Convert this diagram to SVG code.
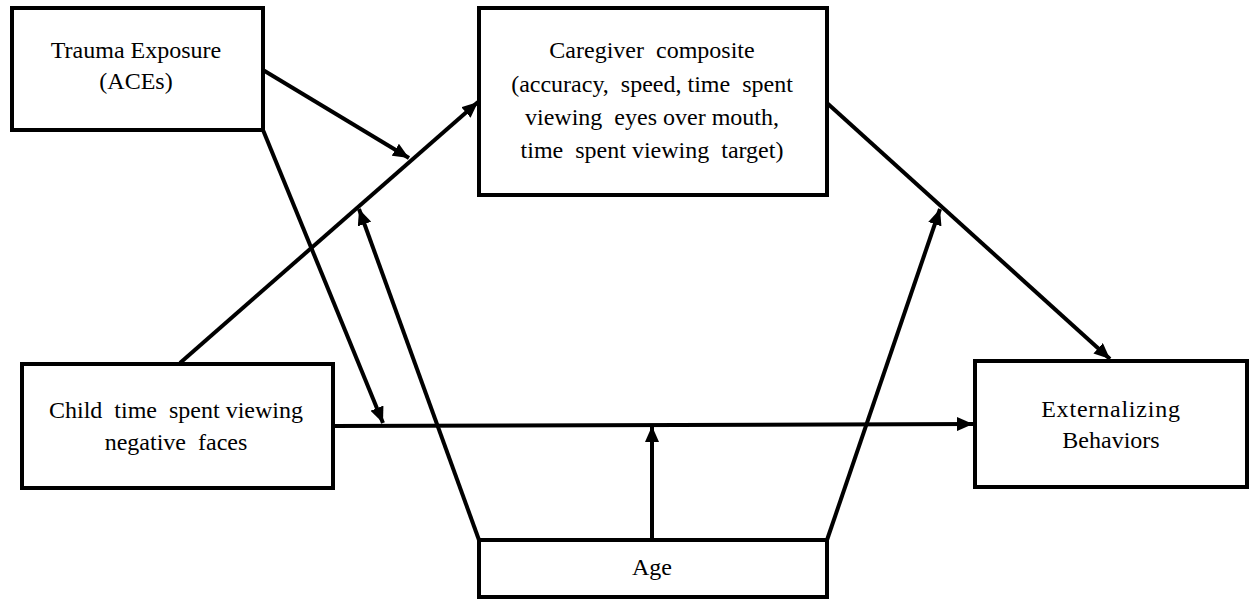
<svg xmlns="http://www.w3.org/2000/svg" width="1249" height="600" viewBox="0 0 1249 600">
<defs>
<marker id="ah" viewBox="0 0 16 14" refX="16" refY="7" markerWidth="16" markerHeight="14" markerUnits="userSpaceOnUse" orient="auto-start-reverse">
<path d="M0,0 L16,7 L0,14 Z" fill="#000"/>
</marker>
<style>
.box{fill:#fff;stroke:#000;stroke-width:4}
.t{font-family:'Liberation Serif','Times New Roman',serif;font-size:24px;fill:#000;text-anchor:middle}
.c{stroke:#000;stroke-width:4;fill:none}
</style>
</defs>
<rect width="1249" height="600" fill="#fff"/>
<g id="connectors">
<line class="c" x1="263" y1="70" x2="409" y2="158" marker-end="url(#ah)"/>
<line class="c" x1="263" y1="130" x2="383" y2="423" marker-end="url(#ah)"/>
<line class="c" x1="180" y1="363" x2="478" y2="102" marker-end="url(#ah)"/>
<line class="c" x1="479" y1="540" x2="359" y2="209" marker-end="url(#ah)"/>
<line class="c" x1="827" y1="540" x2="940" y2="209" marker-end="url(#ah)"/>
<line class="c" x1="652" y1="540" x2="652" y2="426" marker-end="url(#ah)"/>
<line class="c" x1="333" y1="426" x2="973" y2="424" marker-end="url(#ah)"/>
<line class="c" x1="827" y1="103" x2="1110" y2="359" marker-end="url(#ah)"/>
</g>
<g id="trauma">
<rect class="box" x="12" y="8" width="251" height="122"/>
<text class="t" x="136" y="58">Trauma Exposure</text>
<text class="t" x="136" y="89">(ACEs)</text>
</g>
<g id="caregiver">
<rect class="box" x="479" y="8" width="348" height="187"/>
<text class="t" x="652" y="58" xml:space="preserve">Caregiver  composite</text>
<text class="t" x="652" y="92" xml:space="preserve">(accuracy,  speed, time  spent</text>
<text class="t" x="652" y="125" xml:space="preserve">viewing  eyes over mouth,</text>
<text class="t" x="652" y="158" xml:space="preserve">time  spent viewing  target)</text>
</g>
<g id="child">
<rect class="box" x="22" y="364" width="311" height="124"/>
<text class="t" x="176" y="418" xml:space="preserve">Child  time  spent viewing</text>
<text class="t" x="176" y="450" xml:space="preserve">negative  faces</text>
</g>
<g id="externalizing">
<rect class="box" x="975" y="361" width="272" height="126"/>
<text class="t" x="1111" y="417" letter-spacing="0.8">Externalizing</text>
<text class="t" x="1111" y="448">Behaviors</text>
</g>
<g id="age">
<rect class="box" x="479" y="540" width="348" height="57"/>
<text class="t" x="652" y="575">Age</text>
</g>
</svg>
